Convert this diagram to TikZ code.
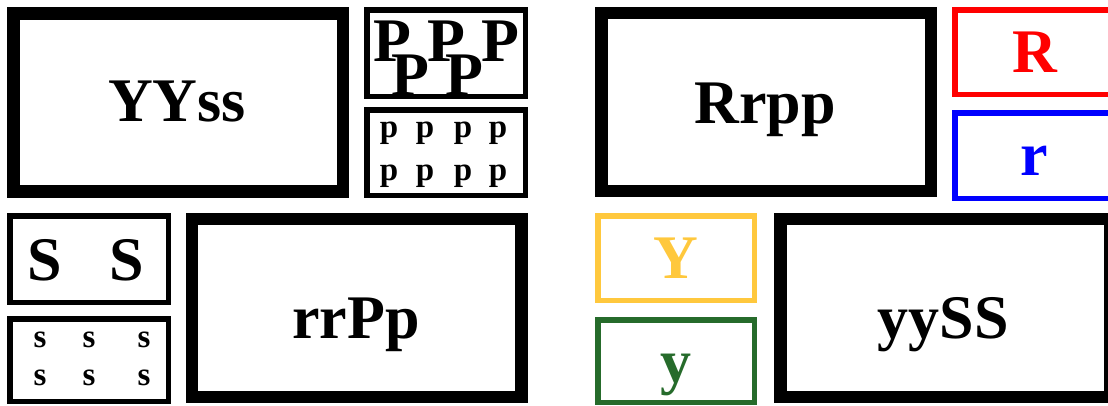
\documentclass[tikz,border=0pt]{standalone}
\usepackage{fontspec}
\setmainfont{Liberation Serif}
\definecolor{gold}{HTML}{FFC83D}
\definecolor{dkgreen}{HTML}{266B2B}
\tikzset{
  bigbox/.style={draw=black, line width=12.5pt, inner sep=0pt, minimum width=329.5pt, minimum height=178pt},
  smallbox/.style={draw=#1, line width=5.5pt, inner sep=0pt, minimum width=158.5pt},
  lbl/.style={inner sep=0pt, anchor=base, font=\fontsize{62}{62}\selectfont\bfseries},
  tinylbl/.style={inner sep=0pt, anchor=base, font=\fontsize{33}{33}\selectfont\bfseries},
}
\begin{document}
\begin{tikzpicture}[x=1pt,y=-1pt]
\useasboundingbox (0,0) rectangle (1108,405);
\clip (0,0) rectangle (1108,405);
% left panel boxes
\node[bigbox] (bYYss) at (178,102.5) {};
\node[smallbox=black, minimum height=86.5pt] (bP) at (446,53) {};
\node[smallbox=black, minimum height=85.5pt] (bp) at (446,152.5) {};
\node[smallbox=black, minimum height=86.5pt] (bS) at (89,259) {};
\node[smallbox=black, minimum height=82.5pt] (bs) at (89,360) {};
\node[bigbox] (brrPp) at (356.5,308) {};
% right panel boxes
\node[bigbox] (bRrpp) at (766,102) {};
\node[smallbox=red, minimum height=84.5pt] (bR) at (1034,52) {};
\node[smallbox=blue, minimum height=85.5pt] (br) at (1034,155.5) {};
\node[smallbox=gold, minimum width=156.5pt, minimum height=84.5pt] (bY) at (676,258) {};
\node[smallbox=dkgreen, minimum width=156.5pt, minimum height=82.5pt] (by) at (676,361) {};
\node[bigbox] (byySS) at (945,308) {};
% labels
\node[lbl] (tYYss) at (177,121) {YYss};
\node[lbl] (tP1) at (392,61) {P};
\node[lbl] (tP2) at (410,95) {P};
\node[lbl] (tP3) at (446,61) {P};
\node[lbl] (tP4) at (464,95) {P};
\node[lbl] (tP5) at (500,61) {P};
\node[tinylbl] (tp1) at (389,137) {p};
\node[tinylbl] (tp2) at (425,137) {p};
\node[tinylbl] (tp3) at (463,137) {p};
\node[tinylbl] (tp4) at (498,137) {p};
\node[tinylbl] (tp5) at (389,180) {p};
\node[tinylbl] (tp6) at (425,180) {p};
\node[tinylbl] (tp7) at (463,180) {p};
\node[tinylbl] (tp8) at (498,180) {p};
\node[lbl] (tS1) at (45,280) {S};
\node[lbl] (tS2) at (127,280) {S};
\node[tinylbl] (ts1) at (40,347) {s};
\node[tinylbl] (ts2) at (89,347) {s};
\node[tinylbl] (ts3) at (144,347) {s};
\node[tinylbl] (ts4) at (40,385) {s};
\node[tinylbl] (ts5) at (89,385) {s};
\node[tinylbl] (ts6) at (144,385) {s};
\node[lbl] (trrPp) at (356,338) {rrPp};
\node[lbl] (tRrpp) at (765,123) {Rrpp};
\node[lbl, text=red] (tR) at (1035,72) {R};
\node[lbl, text=blue] (tr) at (1034,175) {r};
\node[lbl, text=gold] (tY) at (676,278) {Y};
\node[lbl, text=dkgreen] (ty) at (676,382) {y};
\node[lbl] (tyySS) at (943,338) {yySS};
\end{tikzpicture}
\end{document}
